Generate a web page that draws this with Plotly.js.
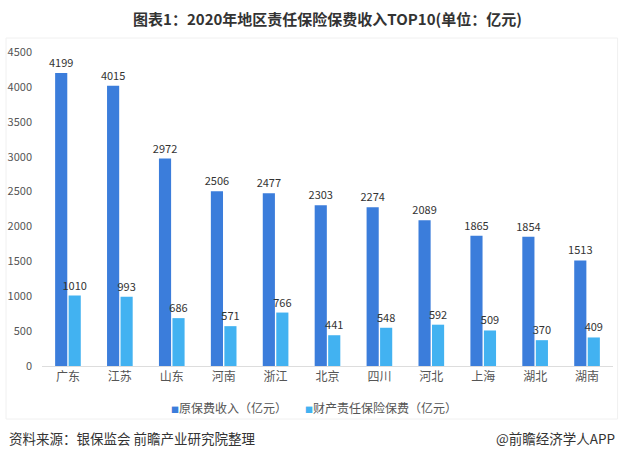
<!DOCTYPE html>
<html><head><meta charset="utf-8">
<script src="https://cdn.plot.ly/plotly-3.0.1.min.js"></script>
<style>html,body{margin:0;padding:0;background:#fff;}#chart{width:620px;height:459px;}</style>
</head><body><div id="chart"></div>
<script>
const categories = ["广东","江苏","山东","河南","浙江","北京","四川","河北","上海","湖北","湖南"];
const premiumIncome = [4199,4015,2972,2506,2477,2303,2274,2089,1865,1854,1513];
const liabilityPremium = [1010,993,686,571,766,441,548,592,509,370,409];
const seriesNames = ["原保费收入（亿元）","财产责任保险保费（亿元）"];
const seriesColors = ['#3b7ddb','#42b2f1'];
const yTicks = [0,500,1000,1500,2000,2500,3000,3500,4000,4500];

const font = "'Noto Sans CJK SC','Microsoft YaHei',sans-serif";
const traces = [
  {type:'bar', name:seriesNames[0], x:categories, y:premiumIncome, text:premiumIncome.map(String),
   textposition:'outside', constraintext:'none', cliponaxis:false, marker:{color:seriesColors[0]},
   textfont:{size:11,color:'#333',family:font}, hoverinfo:'skip'},
  {type:'bar', name:seriesNames[1], x:categories, y:liabilityPremium, text:liabilityPremium.map(String),
   textposition:'outside', constraintext:'none', cliponaxis:false, marker:{color:seriesColors[1]},
   textfont:{size:11,color:'#333',family:font}, hoverinfo:'skip'}
];
const legendText = seriesNames.map((n,i)=>
  '<span style="color:'+seriesColors[i]+';font-size:8px">■</span>'+n).join('　　');
const layout = {
  width:620, height:459,
  margin:{l:42, r:7, t:52, b:93},
  paper_bgcolor:'#fff', plot_bgcolor:'#fff',
  font:{family:font, color:'#555', size:11},
  barmode:'group', bargap:0.48, bargroupgap:0.1,
  showlegend:false,
  title:{text:'<b>图表1：2020年地区责任保险保费收入TOP10(单位：亿元)</b>', x:0.5, xanchor:'center',
         xref:'paper', yref:'container', y:1-20/459, yanchor:'middle', font:{size:15,color:'#333',family:font}},
  xaxis:{type:'category', tickfont:{size:12,color:'#555',family:font}, showline:true,
         linecolor:'#ddd', linewidth:1, ticks:'', showgrid:false, zeroline:false},
  yaxis:{range:[0,4500], tickvals:yTicks, ticktext:yTicks.map(String), showgrid:false,
         zeroline:false, showline:false, ticks:'', ticklabelstandoff:9,
         tickfont:{size:11,color:'#555',family:font}},
  shapes:[{type:'rect', xref:'paper', yref:'paper',
           x0:-0.063, x1:1.008, y0:(366-419)/314, y1:(366-38)/314,
           line:{color:'#f0f0f0', width:1}, layer:'below'}],
  annotations:[
    {text:legendText, xref:'paper', yref:'paper', x:(314-42)/571, xanchor:'center',
     y:(366-407)/314, yanchor:'middle', showarrow:false, font:{size:12,color:'#555',family:font}},
    {text:'资料来源：银保监会 前瞻产业研究院整理', xref:'paper', yref:'paper', x:(7-42)/571, xanchor:'left',
     y:(366-438)/314, yanchor:'middle', showarrow:false, font:{size:13.5,color:'#333',family:font}},
    {text:'@前瞻经济学人APP', xref:'paper', yref:'paper', x:(617-42)/571, xanchor:'right',
     y:(366-438)/314, yanchor:'middle', showarrow:false, font:{size:13.5,color:'#333',family:font}}
  ]
};
Plotly.newPlot('chart', traces, layout, {displayModeBar:false, staticPlot:true});
</script></body></html>
